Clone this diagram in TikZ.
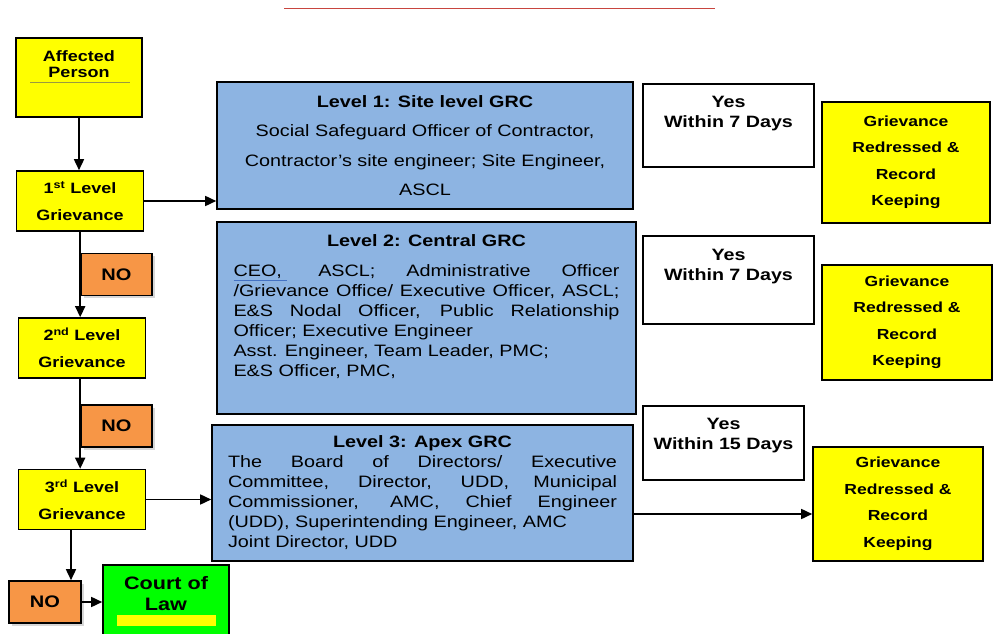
\documentclass[tikz,border=0pt]{standalone}
\usepackage{fontspec}
\setmainfont{Liberation Sans}[FakeStretch=1.2]
\usetikzlibrary{positioning,arrows.meta,shadows}
\definecolor{note}{HTML}{FFFF00}
\definecolor{grc}{HTML}{8DB4E2}
\definecolor{refuse}{HTML}{F79646}
\definecolor{court}{HTML}{00FF00}
\definecolor{topred}{HTML}{C8453F}
\definecolor{link}{HTML}{4472C4}
\definecolor{olivine}{HTML}{9A9A40}
\tikzset{
  lvl/.style={draw=black, fill=note, line width=1.6pt, inner sep=0pt, align=center,
              font=\fontsize{15}{27}\selectfont\bfseries, minimum width=127pt, minimum height=60pt},
  nobox/.style={draw=black, fill=refuse, line width=1.6pt, inner sep=0pt,
              font=\fontsize{16.7}{20}\selectfont\bfseries, minimum width=71pt, minimum height=42pt,
              drop shadow={shadow xshift=2.5pt, shadow yshift=-2.5pt, fill=black!45, opacity=.35}},
  grcbox/.style={draw=black, fill=grc, line width=1.6pt, inner sep=0pt,
              font=\fontsize{16.5}{20}\selectfont},
  yesbox/.style={draw=black, fill=white, line width=1.5pt, inner sep=0pt},
  yestxt/.style={anchor=north, inner sep=0pt, align=center, font=\fontsize{16.4}{20}\selectfont\bfseries},
  done/.style={draw=black, fill=note, line width=1.6pt, inner sep=0pt, align=center,
              font=\fontsize{14.6}{26.5}\selectfont\bfseries, minimum width=169pt},
  arr/.style={-{Triangle[length=11pt,width=10pt]}, line width=1.6pt},
}

\begin{document}
\begin{tikzpicture}[x=1pt, y=-1pt]
\useasboundingbox (0,0) rectangle (997,634);

\draw[topred, line width=1pt] (284,9) -- (715,9);

% --- left column ---
\node[lvl, minimum width=126pt, minimum height=79pt,
      label={[anchor=north, yshift=-13pt, inner sep=0pt, align=center,
              font=\fontsize{15}{16.5}\selectfont\bfseries]north:Affected\\Person}] (ap) at (79,77.5) {};
\draw[olivine, line width=0.6pt] ([xshift=-49pt, yshift=-45pt]ap.north) -- +(100pt,0pt);

\node[lvl] (g1) at (80,201) {1\textsuperscript{st} Level\\Grievance};
\node[nobox] (no1) at (116.5,274.5) {NO};
\node[lvl] (g2) at (82,348) {2\textsuperscript{nd} Level\\Grievance};
\node[nobox] (no2) at (116.5,426) {NO};
\node[lvl] (g3) at (82,499.5) {3\textsuperscript{rd} Level\\Grievance};
\node[nobox, minimum width=72pt] (no3) at (45,602) {NO};

\node[draw=black, fill=court, line width=1.6pt, minimum width=126pt, minimum height=80pt,
      label={[anchor=north, yshift=-12pt, inner sep=0pt, align=center,
              font=\fontsize{18}{21}\selectfont\bfseries]north:Court of\\Law}] (law) at (166,605) {};
\fill[note] ([xshift=-49.5pt, yshift=-51pt]law.north) rectangle +(99pt,-11pt);

\draw[arr] (ap.south) -- (ap.south |- g1.north);
\draw[arr] (no1.west |- g1.south) -- (no1.west |- g2.north);
\draw[arr] (no2.west |- g2.south) -- (no2.west |- g3.north);
\draw[arr] ([xshift=-11pt]g3.south) -- ([xshift=-11pt]g3.south |- no3.north);
\draw[arr] (no3.east) -- (no3.east -| law.west);

% --- committees ---
\node[grcbox, minimum width=416pt, minimum height=127pt, align=center,
      font=\fontsize{16.5}{29.3}\selectfont] (lv1) at (425,145.5)
  {\textbf{Level 1: Site level GRC}\\Social Safeguard Officer of Contractor,\\
   Contractor's site engineer; Site Engineer,\\ASCL};

\node[grcbox, minimum width=419pt, minimum height=192pt] (lv2) at (426.5,318) {};
\node[anchor=north, inner sep=0pt, font=\fontsize{16.5}{20}\selectfont] (lv2txt)
  at ([yshift=-13pt]lv2.north) {\parbox{386pt}{%
    {\centering\bfseries Level 2: Central GRC\par}\vspace{10pt}%
    {\color{link}\underline{\color{black}CEO,\ }} ASCL; Administrative Officer\linebreak
    /Grievance Office/ Executive Officer, ASCL;\linebreak
    E\&S Nodal Officer, Public Relationship\linebreak
    Officer; Executive Engineer\\
    Asst. Engineer, Team Leader, PMC;\\
    E\&S Officer, PMC,}};

\node[grcbox, minimum width=421pt, minimum height=136pt] (lv3) at (422.5,493)
  {\parbox{389pt}{%
    {\centering\bfseries Level 3: Apex GRC\par}%
    The Board of Directors/ Executive\linebreak
    Committee, Director, UDD, Municipal\linebreak
    Commissioner, AMC, Chief Engineer\linebreak
    (UDD), Superintending Engineer, AMC\\
    Joint Director, UDD}};

\draw[arr] (g1.east) -- (g1.east -| lv1.west);
\draw[arr] (g3.east) -- (g3.east -| lv3.west);

% --- outcome ---
\node[yesbox, minimum width=171pt, minimum height=83pt] (yes1) at (728.5,125.5) {};
\node[yestxt] (yes1txt) at ([yshift=-13pt]yes1.north) {Yes\\Within 7 Days};
\node[yesbox, minimum width=171pt, minimum height=88pt] (yes2) at (728.5,280) {};
\node[yestxt] (yes2txt) at ([yshift=-14pt]yes2.north) {Yes\\Within 7 Days};
\node[yesbox, minimum width=161pt, minimum height=74pt] (yes3) at (723.5,443) {};
\node[yestxt] (yes3txt) at ([yshift=-13pt]yes3.north) {Yes\\Within 15 Days};

\node[done, minimum width=168pt, minimum height=121pt] (gr1) at (906,162.5)
  {Grievance\\Redressed \&\\Record\\Keeping};
\node[done, minimum width=170pt, minimum height=115pt] (gr2) at (907,322.5)
  {Grievance\\Redressed \&\\Record\\Keeping};
\node[done, minimum width=170pt, minimum height=114pt] (gr3) at (898,504)
  {Grievance\\Redressed \&\\Record\\Keeping};

\draw[arr] ([yshift=-21pt]lv3.east) -- ([yshift=-21pt]lv3.east -| gr3.west);

\end{tikzpicture}
\end{document}
